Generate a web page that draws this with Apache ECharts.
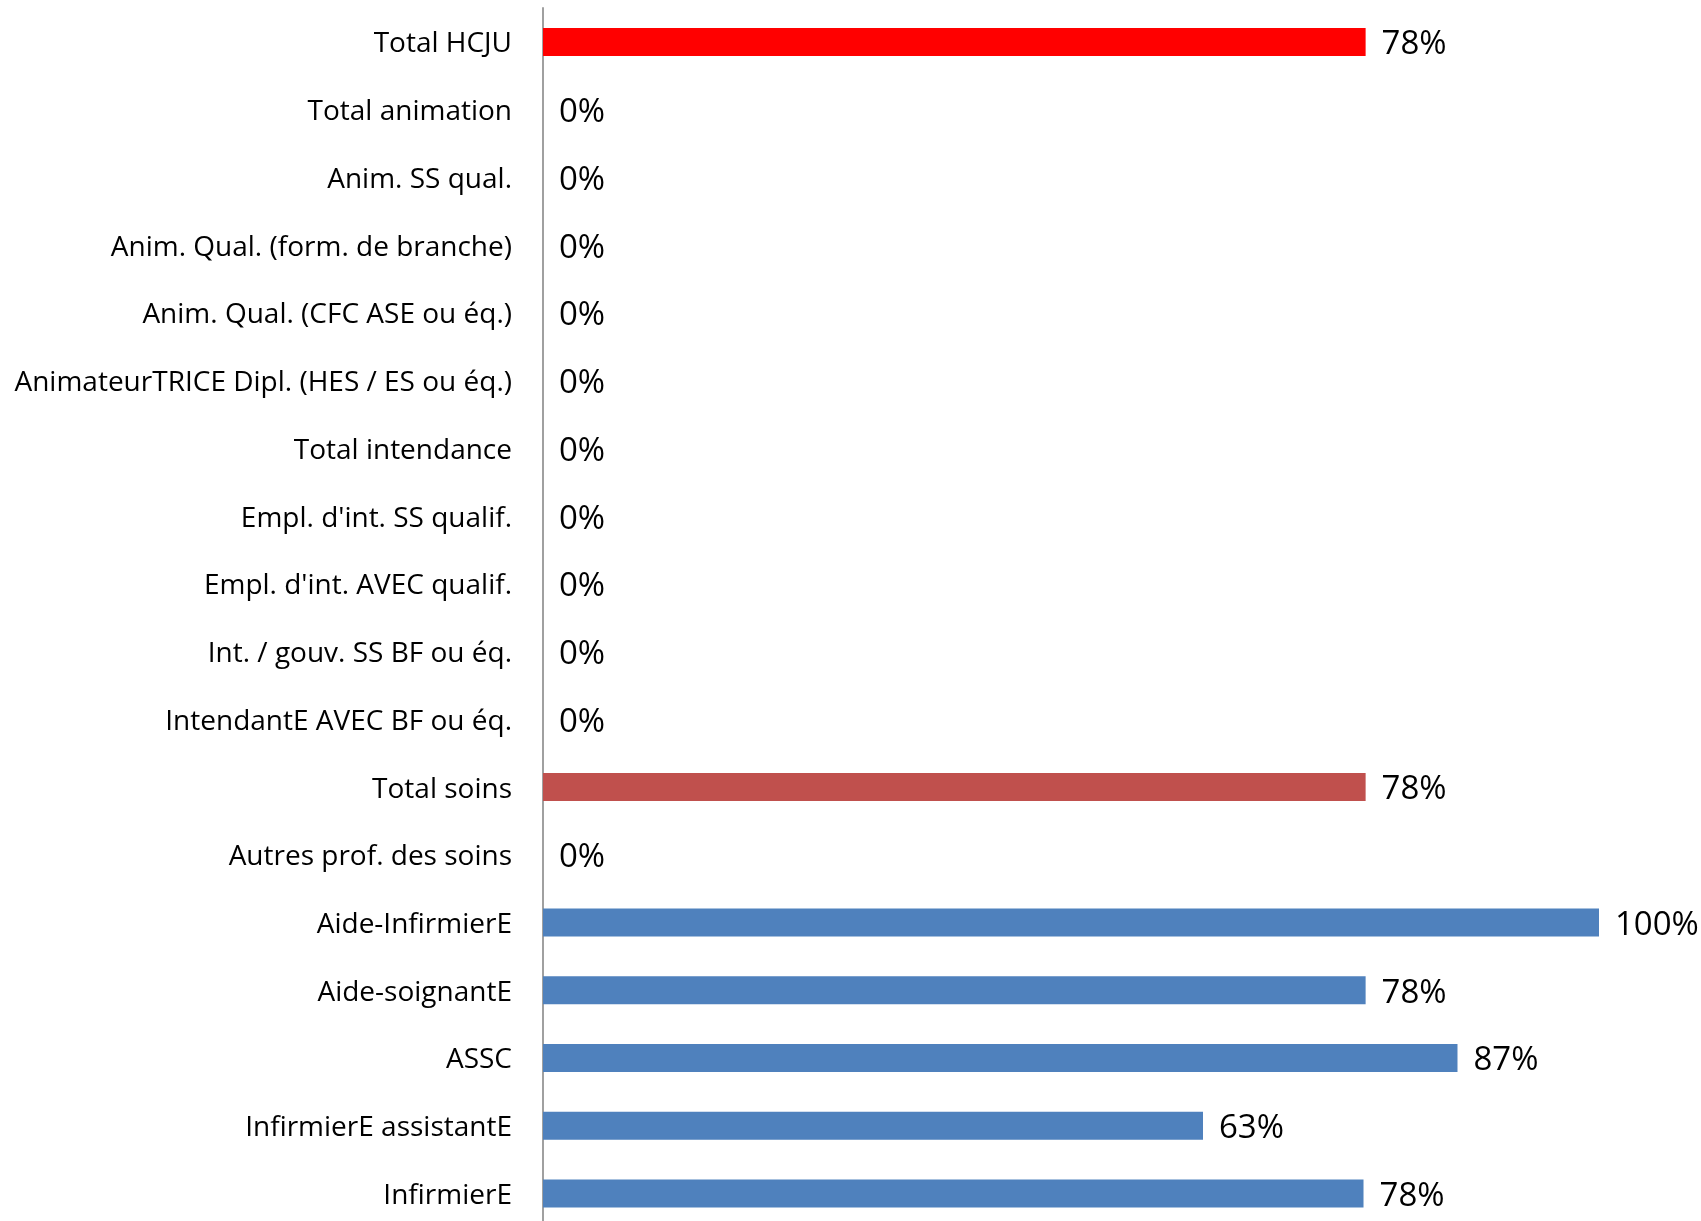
<!DOCTYPE html>
<html>
<head>
<meta charset="utf-8">
<script src="https://cdn.jsdelivr.net/npm/echarts@6/dist/echarts.min.js"></script>
<style>
  html, body { margin: 0; padding: 0; background: #fff; }
  #chart { width: 1701px; height: 1221px; }
</style>
</head>
<body>
<div id="chart"></div>
<script>
// categories, top to bottom
var categories = [
  'Total HCJU',
  'Total animation',
  'Anim. SS qual.',
  'Anim. Qual. (form. de branche)',
  'Anim. Qual. (CFC ASE ou éq.)',
  'AnimateurTRICE Dipl. (HES / ES ou éq.)',
  'Total intendance',
  "Empl. d'int. SS qualif.",
  "Empl. d'int. AVEC qualif.",
  'Int. / gouv. SS BF ou éq.',
  'IntendantE AVEC BF ou éq.',
  'Total soins',
  'Autres prof. des soins',
  'Aide-InfirmierE',
  'Aide-soignantE',
  'ASSC',
  'InfirmierE assistantE',
  'InfirmierE'
];
// percentages
var values = [77.9, 0, 0, 0, 0, 0, 0, 0, 0, 0, 0, 77.9, 0, 100, 77.9, 86.6, 62.5, 77.7];
var barColors = ['#FF0000', '#4F81BD', '#4F81BD', '#4F81BD', '#4F81BD', '#4F81BD', '#4F81BD', '#4F81BD', '#4F81BD',
  '#4F81BD', '#4F81BD', '#C0504D', '#4F81BD', '#4F81BD', '#4F81BD', '#4F81BD', '#4F81BD', '#4F81BD'];

var chart = echarts.init(document.getElementById('chart'));
var seriesData = [];
for (var i = 0; i < values.length; i++) {
  seriesData.push({ value: values[i], itemStyle: { color: barColors[i] } });
}

chart.setOption({
  animation: false,
  grid: [
    // plot area: rows centred from first to last category
    { left: 543, right: 102, top: 42, bottom: 27.5 },
    // only carries the full-height vertical axis line
    { left: 543, width: 10, top: 8, bottom: 0 }
  ],
  xAxis: [
    { type: 'value', gridIndex: 0, min: 0, max: 100, show: false },
    { type: 'value', gridIndex: 1, min: 0, max: 1, show: false }
  ],
  yAxis: [{
    type: 'category',
    gridIndex: 0,
    inverse: true,
    boundaryGap: false,
    data: categories,
    axisLine: { show: false },
    axisTick: { show: false },
    splitLine: { show: false },
    axisLabel: {
      margin: 31,
      color: '#000',
      fontFamily: 'Open Sans',
      fontSize: 28,
      formatter: function (v) { return '{t|' + v + '}'; },
      rich: {
        t: { fontFamily: 'Open Sans', fontSize: 28, color: '#000', padding: [5, 0, 0, 0] }
      }
    }
  }, {
    type: 'value',
    gridIndex: 1,
    min: 0,
    max: 1,
    axisLine: { show: true, lineStyle: { color: '#a0a0a0', width: 2 } },
    axisTick: { show: false },
    axisLabel: { show: false },
    splitLine: { show: false }
  }],
  series: [{
    type: 'bar',
    xAxisIndex: 0,
    yAxisIndex: 0,
    data: seriesData,
    barWidth: 28,
    label: {
      show: true,
      position: 'right',
      distance: 16,
      offset: [0, 3],
      color: '#000',
      fontFamily: 'Open Sans',
      fontSize: 33,
      formatter: function (p) { return Math.round(p.value) + '%'; }
    }
  }]
});
</script>
</body>
</html>
